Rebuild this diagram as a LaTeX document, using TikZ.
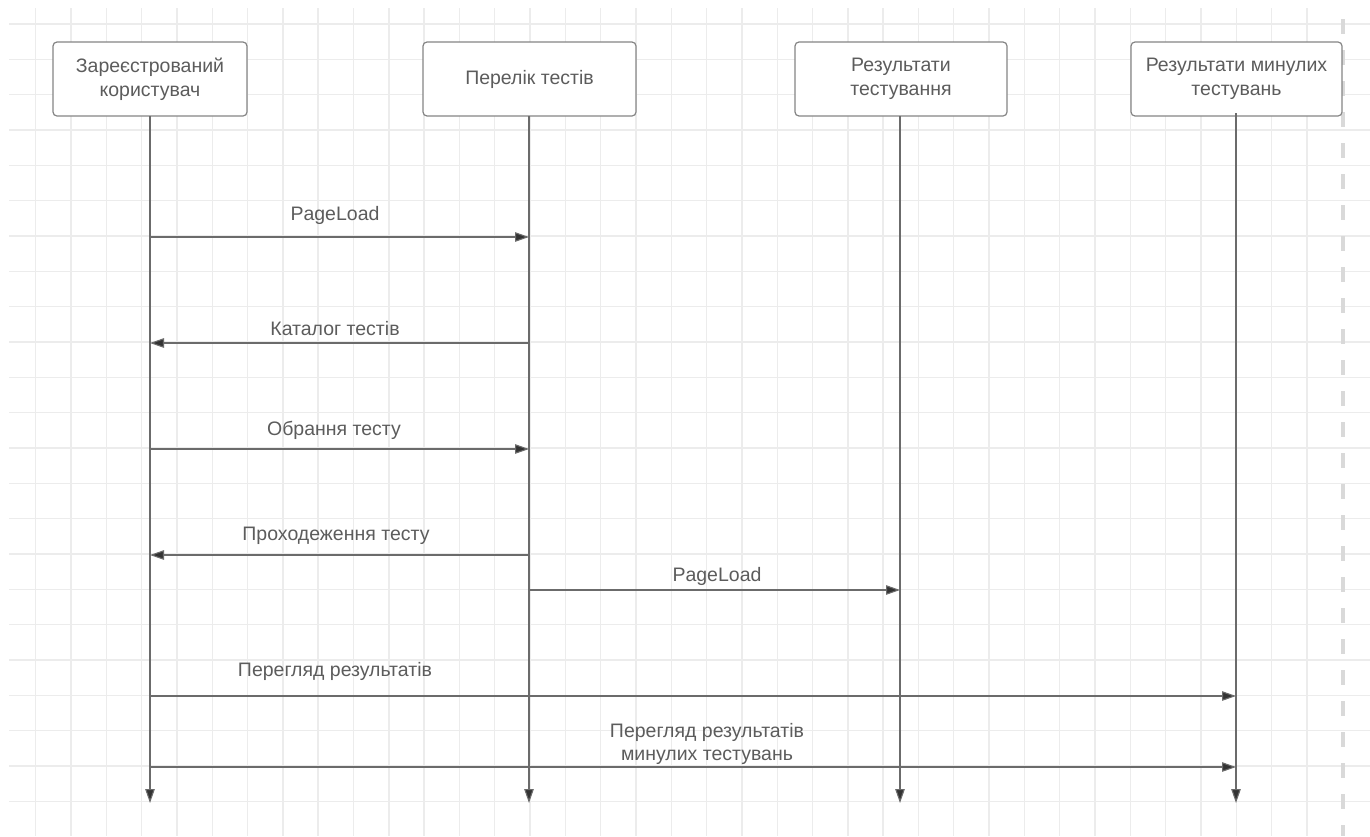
\documentclass[tikz,border=0pt]{standalone}
\usepackage{fontspec}
\setmainfont{Liberation Sans}
\usetikzlibrary{arrows.meta}
\definecolor{gridc}{HTML}{ECECEC}
\definecolor{dashc}{HTML}{D9D9D9}
\definecolor{txtc}{HTML}{5C5C5C}
\definecolor{linec}{HTML}{6B6B6B}
\definecolor{boxc}{HTML}{858585}
\definecolor{tipc}{HTML}{333333}
\tikzset{
  lbl/.style={font=\fontsize{19.5}{24}\selectfont, text=txtc, inner sep=0pt, align=center},
  actor/.style={draw=boxc, line width=1.2pt, fill=white, rounded corners=4pt, minimum height=74pt,
    font=\fontsize{19.5}{24}\selectfont, text=txtc, align=center, inner sep=0pt},
  lifeline/.style={draw=linec, line width=1.1pt, -{Triangle[length=14pt,width=9.5pt,fill=tipc]}},
  msg/.style={draw=linec, line width=1.1pt, -{Triangle[length=14pt,width=9.5pt,fill=tipc]}},
  gridline/.style={draw=gridc, line width=1.4pt}
}
\begin{document}
\begin{tikzpicture}[x=1pt,y=-1pt]
\useasboundingbox (0,0) rectangle (1370,836);
\fill[white] (0,0) rectangle (1370,836);
% grid
\foreach \k in {0,...,22} {\draw[gridline] (9,24+35.33*\k) -- (1370,24+35.33*\k);}
\foreach \k in {0,...,36} {\draw[gridline] (35.7+35.31*\k,8) -- (35.7+35.31*\k,836);}
\draw[draw=dashc, line width=4pt, dash pattern=on 15pt off 16pt, dash phase=20pt] (1342.5,8) -- (1342.5,836);
% actors
\node[actor, minimum width=194pt] (user) at (150,79) {Зареєстрований\\користувач};
\node[actor, minimum width=213pt] (list) at (529.5,79) {Перелік тестів};
\node[actor, minimum width=212pt] (res) at (901,79) {Результати\\тестування};
\node[actor, minimum width=211pt] (past) at (1236.5,79) {Результати минулих\\тестувань};
% lifeline ends
\coordinate (userEnd) at (150,803);
\coordinate (listEnd) at (529,803);
\coordinate (resEnd) at (900,803);
\coordinate (pastEnd) at (1236,803);
\draw[lifeline] (150,116) -- (userEnd);
\draw[lifeline] (529,116) -- (listEnd);
\draw[lifeline] (900,116) -- (resEnd);
\draw[lifeline] (1236,113) -- (pastEnd);
% message anchor points
\coordinate (u1) at (150,237); \coordinate (l1) at (529,237);
\coordinate (u2) at (150,343); \coordinate (l2) at (529,343);
\coordinate (u3) at (150,449); \coordinate (l3) at (529,449);
\coordinate (u4) at (150,555); \coordinate (l4) at (529,555);
\coordinate (l5) at (529,590); \coordinate (r5) at (900,590);
\coordinate (u6) at (150,696); \coordinate (p6) at (1236,696);
\coordinate (u7) at (150,767); \coordinate (p7) at (1236,767);
\draw[msg] (u1) -- (l1);
\draw[msg] (l2) -- (u2);
\draw[msg] (u3) -- (l3);
\draw[msg] (l4) -- (u4);
\draw[msg] (l5) -- (r5);
\draw[msg] (u6) -- (p6);
\draw[msg] (u7) -- (p7);
% labels
\node[lbl, anchor=base] (m1) at (335,220) {PageLoad};
\node[lbl, anchor=base] (m2) at (335,335) {Каталог тестів};
\node[lbl, anchor=base] (m3) at (334,435) {Обрання тесту};
\node[lbl, anchor=base] (m4) at (336,540) {Проходеження тесту};
\node[lbl, anchor=base] (m5) at (717,581) {PageLoad};
\node[lbl, anchor=base] (m6) at (335,676) {Перегляд результатів};
\node[lbl, anchor=base] (m7a) at (707,737) {Перегляд результатів};
\node[lbl, anchor=base] (m7b) at (707,760) {минулих тестувань};
\end{tikzpicture}
\end{document}
